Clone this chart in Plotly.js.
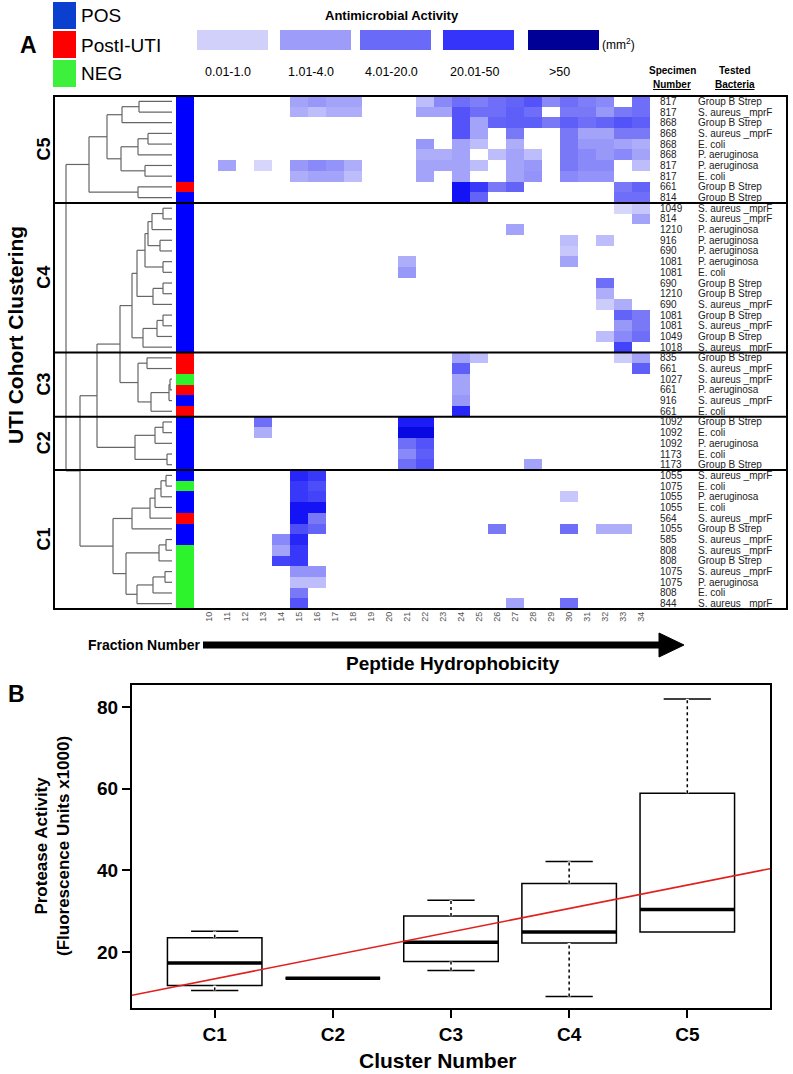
<!DOCTYPE html>
<html>
<head>
<meta charset="utf-8">
<script src="https://cdn.plot.ly/plotly-3.0.1.min.js"></script>
<style>html,body{margin:0;padding:0;background:#fff}#chart{width:793px;height:1074px}</style>
</head>
<body>
<div id="chart"></div>
<script>
// ---- panel A data ----
const fractions = [10, 11, 12, 13, 14, 15, 16, 17, 18, 19, 20, 21, 22, 23, 24, 25, 26, 27, 28, 29, 30, 31, 32, 33, 34];

const clusterNames = ['C5', 'C4', 'C3', 'C2', 'C1'];
const clusterSizes = [10, 14, 6, 5, 13];

const specimens = [
  817, 817, 868, 868, 868, 868, 817, 817, 661, 814,
  1049, 814, 1210, 916, 690, 1081, 1081, 690, 1210, 690, 1081, 1081, 1049, 1018,
  835, 661, 1027, 661, 916, 661,
  1092, 1092, 1092, 1173, 1173,
  1055, 1075, 1055, 1055, 564, 1055, 585, 808, 808, 1075, 1075, 808, 844
];

const bacteria = [
  'Group B Strep', 'S. aureus _mprF', 'Group B Strep', 'S. aureus _mprF', 'E. coli', 'P. aeruginosa', 'P. aeruginosa', 'E. coli', 'Group B Strep', 'Group B Strep',
  'S. aureus _mprF', 'S. aureus _mprF', 'P. aeruginosa', 'P. aeruginosa', 'P. aeruginosa', 'P. aeruginosa', 'E. coli', 'Group B Strep', 'Group B Strep', 'S. aureus _mprF', 'Group B Strep', 'S. aureus _mprF', 'Group B Strep', 'S. aureus _mprF',
  'Group B Strep', 'S. aureus _mprF', 'S. aureus _mprF', 'P. aeruginosa', 'S. aureus _mprF', 'E. coli',
  'Group B Strep', 'E. coli', 'P. aeruginosa', 'E. coli', 'Group B Strep',
  'S. aureus _mprF', 'E. coli', 'P. aeruginosa', 'E. coli', 'S. aureus _mprF', 'Group B Strep', 'S. aureus _mprF', 'S. aureus _mprF', 'Group B Strep', 'S. aureus _mprF', 'P. aeruginosa', 'E. coli', 'S. aureus _mprF'
];

// 0 = POS, 1 = PostI-UTI, 2 = NEG
const status = [
  0, 0, 0, 0, 0, 0, 0, 0, 1, 0,
  0, 0, 0, 0, 0, 0, 0, 0, 0, 0, 0, 0, 0, 0,
  1, 1, 2, 1, 0, 1,
  0, 0, 0, 0, 0,
  0, 2, 0, 0, 1, 0, 0, 2, 2, 2, 2, 2, 2
];
const statusNames = ['POS', 'PostI-UTI', 'NEG'];

// activity level per fraction (1 = 0.01-1.0 ... 5 = >50), missing = none
const c5Activity = [
  {15: 2, 16: 2.2, 17: 2, 18: 2, 22: 1.5, 23: 2.5, 24: 3, 25: 2.7, 26: 3, 27: 3.2, 28: 3.5, 29: 2.5, 30: 3, 31: 2.7, 32: 2.5, 34: 3},
  {15: 1.8, 16: 1.5, 17: 1.8, 18: 1.8, 22: 2, 23: 2, 24: 3.5, 25: 3, 26: 3, 27: 3.3, 28: 3, 30: 2.8, 31: 2.8, 32: 2.2, 33: 2.8, 34: 3},
  {24: 3.5, 25: 2, 26: 3.2, 27: 3.3, 28: 3.3, 29: 2.8, 30: 3.3, 31: 3, 32: 3.2, 33: 3.5, 34: 3.3},
  {24: 3.5, 25: 2, 27: 2.8, 30: 2.8, 31: 2, 32: 2, 33: 2.8, 34: 2.8},
  {22: 2.2, 24: 2, 25: 1.5, 27: 1.8, 30: 2.8, 31: 2.2, 32: 2.2, 33: 2, 34: 1.8},
  {22: 1.8, 23: 1.8, 24: 2, 26: 1.5, 27: 2, 28: 1.5, 30: 2.8, 31: 2.5, 32: 2.2, 33: 2.5, 34: 2},
  {11: 2, 13: 1, 15: 2.2, 16: 2.5, 17: 2.3, 18: 1.8, 22: 2, 23: 2, 24: 2, 25: 1.5, 27: 2, 28: 2.2, 30: 2.8, 31: 2.5, 32: 2.5, 34: 1.5},
  {15: 1.8, 16: 2, 17: 2, 18: 1.5, 22: 2, 24: 2, 27: 2, 28: 2.3, 30: 2.5, 31: 2.3, 32: 2.3},
  {24: 4.4, 25: 4, 26: 2.8, 27: 3.2, 33: 2.8, 34: 3.2},
  {24: 4.4, 25: 3.2, 33: 3, 34: 3}
];
const c4Activity = [
  {33: 1, 34: 1.3},
  {34: 2},
  {27: 2},
  {30: 1.5, 32: 1.5},
  {30: 1.3},
  {21: 1.8, 30: 2},
  {21: 2.2},
  {32: 3},
  {32: 1.8},
  {32: 1.2, 33: 1.8},
  {33: 3.2, 34: 2.8},
  {33: 2.2, 34: 2.8},
  {32: 1.5, 33: 2.5, 34: 3},
  {33: 3.8}
];
const c3Activity = [
  {24: 2, 25: 1.5, 33: 1.2, 34: 2},
  {24: 3.3, 34: 3.3},
  {24: 2},
  {24: 2},
  {24: 2.2},
  {24: 4.2}
];
const c2Activity = [
  {13: 3, 21: 4.3, 22: 4.3},
  {13: 1.8, 21: 4.6, 22: 4.6},
  {21: 3, 22: 3.5},
  {21: 2.5, 22: 3.3},
  {21: 3, 22: 3.5, 28: 2}
];
const c1Activity = [
  {15: 4.2, 16: 4},
  {15: 4, 16: 3.6},
  {15: 4, 16: 3.8, 30: 1.3},
  {15: 4.4, 16: 4.4},
  {15: 4.4, 16: 2.8},
  {15: 3.6, 16: 3.2, 26: 2.8, 30: 3, 32: 1.8, 33: 1.8},
  {14: 2.5, 15: 4.2},
  {14: 2, 15: 4},
  {14: 3.8, 15: 4},
  {15: 2.3, 16: 2.3},
  {15: 1.5, 16: 1.5},
  {15: 2.8},
  {15: 3.5, 27: 2, 30: 3}
];

// dendrogram: [left, right, merge height], leaves are row numbers
const c5Tree = [[[[0, 1, 33], 2, 50], [[[3, 4, 24], 5, 34], [6, 7, 27], 51], 65], [8, 9, 34], 83];
const c4Tree = [[[[[[10, 11, 9], 12, 20], [13, 14, 12], 24], [15, 16, 9], 27], [[17, 18, 9], 19, 19], 35], [[[20, 21, 9], 22, 15], 23, 29], 40];
const c3Tree = [[24, 25, 25], [[[26, 27, 2], 28, 3], 29, 21], 34];
const c2Tree = [[[30, 31, 9], 32, 17], [33, 34, 5], 37];
const c1Tree = [[[[[[35, 36, 6], 37, 11], 38, 17], 39, 22], 40, 40], [[[41, 42, 6], 43, 13], [[[44, 45, 7], 46, 19], 47, 35], 46], 59];
const fullTree = [c5Tree, [[[c4Tree, c3Tree, 52], c2Tree, 75], c1Tree, 92], 106];

const activityBins = ['0.01-1.0', '1.01-4.0', '4.01-20.0', '20.01-50', '>50'];
const activityColors = ['#d0d0fb', '#9d9df9', '#6a6af8', '#3434fb', '#000096'];

// ---- panel B data ----
const boxClusters = ['C1', 'C2', 'C3', 'C4', 'C5'];
const boxLower = [10.6, 13.6, 15.5, 9.1, 24.9];
const boxQ1 = [11.8, 13.6, 17.7, 22.2, 24.9];
const boxMedian = [17.3, 13.6, 22.4, 24.9, 30.4];
const boxQ3 = [23.5, 13.6, 28.8, 36.8, 58.9];
const boxUpper = [25.1, 13.6, 32.7, 42.2, 82];
const trendIntercept = 7.7;
const trendSlope = 5.74;

// ---- helpers ----
const W = 793, H = 1074;
const px = x => x / W;
const py = y => 1 - y / H;
const arial = 'Liberation Sans, Arial, sans-serif';

// annotation with explicit anchors (auto anchors shift text near the edges)
const note = (o) => Object.assign({ xref: 'paper', yref: 'paper', xanchor: 'center', yanchor: 'middle', showarrow: false }, o);

const activityRows = [...c5Activity, ...c4Activity, ...c3Activity, ...c2Activity, ...c1Activity];
const rowIdx = specimens.map((d, i) => i);
const z = activityRows.map(r => fractions.map(f => (r[f] !== undefined ? r[f] : null)));

// dendrogram segments
const dx = [], dy = [];
const walk = node => {
  if (typeof node === 'number') return { y: node, h: 0 };
  const [a, b, h] = node;
  const A = walk(a), B = walk(b);
  dx.push(A.h, h, null, B.h, h, null, h, h, null);
  dy.push(A.y, A.y, null, B.y, B.y, null, A.y, B.y, null);
  return { y: (A.y + B.y) / 2, h };
};
walk(fullTree);

// cluster row boundaries
const bounds = [];
let acc = 0;
clusterSizes.forEach(n => { bounds.push([acc, acc + n - 1]); acc += n; });

const traces = [];

traces.push({
  type: 'heatmap', x: fractions, y: rowIdx, z: z,
  xaxis: 'x', yaxis: 'y', zmin: 1, zmax: 5, showscale: false, hoverinfo: 'skip',
  colorscale: [[0, '#d6d6fc'], [0.25, '#a3a3f9'], [0.5, '#6e6ef8'], [0.75, '#3838fa'], [0.875, '#0a0af5'], [1, '#000096']]
});

traces.push({
  type: 'heatmap', x: [0], y: rowIdx, z: status.map(s => [s]),
  xaxis: 'x2', yaxis: 'y', zmin: 0, zmax: 2, showscale: false, hoverinfo: 'skip',
  colorscale: [[0, '#0000ff'], [0.33, '#0000ff'], [0.34, '#ff0000'], [0.66, '#ff0000'], [0.67, '#2cf32c'], [1, '#2cf32c']]
});

traces.push({
  type: 'scatter', mode: 'lines', x: dx, y: dy, xaxis: 'x3', yaxis: 'y',
  line: { color: '#666', width: 1.2 }, hoverinfo: 'skip'
});

// box plot
traces.push({
  type: 'box', x: [1, 2, 3, 4, 5], q1: boxQ1, median: boxMedian, q3: boxQ3,
  lowerfence: boxLower, upperfence: boxUpper, width: 0.8, whiskerwidth: 0.5,
  xaxis: 'x4', yaxis: 'y4', fillcolor: '#fff', line: { color: '#000', width: 1.5 },
  hoverinfo: 'skip', boxpoints: false
});

const wx = [], wyHi = [], wyLo = [];
boxClusters.forEach((c, i) => {
  wx.push(i + 1, i + 1, null);
  wyHi.push(boxQ3[i], boxUpper[i], null);
  wyLo.push(boxLower[i], boxQ1[i], null);
});
[wyHi, wyLo].forEach(wy => {
  traces.push({ type: 'scatter', mode: 'lines', x: wx, y: wy, xaxis: 'x4', yaxis: 'y4',
    line: { color: '#fff', width: 3 }, hoverinfo: 'skip' });
  traces.push({ type: 'scatter', mode: 'lines', x: wx, y: wy, xaxis: 'x4', yaxis: 'y4',
    line: { color: '#000', width: 1.5, dash: 'dot' }, hoverinfo: 'skip' });
});

const mx = [], my = [];
boxMedian.forEach((m, i) => { mx.push(i + 0.6, i + 1.4, null); my.push(m, m, null); });
traces.push({ type: 'scatter', mode: 'lines', x: mx, y: my, xaxis: 'x4', yaxis: 'y4',
  line: { color: '#000', width: 3.5 }, hoverinfo: 'skip' });

const tx = [0.3, 5.7];
traces.push({ type: 'scatter', mode: 'lines', x: tx, y: tx.map(v => trendIntercept + trendSlope * v),
  xaxis: 'x4', yaxis: 'y4', line: { color: '#e0201e', width: 1.6 }, hoverinfo: 'skip' });

// ---- shapes and annotations ----
const shapes = [];
const annotations = [];

// frame of panel A and cluster separators
shapes.push({ type: 'rect', xref: 'paper', yref: 'paper', x0: px(54), x1: px(787), y0: py(609), y1: py(96),
  line: { color: '#000', width: 2 } });
bounds.slice(0, -1).forEach(b => {
  shapes.push({ type: 'line', xref: 'paper', yref: 'y', x0: px(54), x1: px(787), y0: b[1] + 0.5, y1: b[1] + 0.5,
    line: { color: '#000', width: 2 } });
});

// cluster labels
bounds.forEach((b, i) => {
  annotations.push(note({ yref: 'y', x: px(44), y: (b[0] + b[1]) / 2, text: '<b>' + clusterNames[i] + '</b>',
    textangle: -90, font: { family: arial, size: 18, color: '#000' } }));
});
annotations.push(note({ x: px(15), y: py(335), text: '<b>UTI Cohort Clustering</b>',
  textangle: -90, font: { family: arial, size: 21, color: '#000' } }));

// row labels
specimens.forEach((s, i) => {
  annotations.push(note({ yref: 'y', x: px(658), y: i, xanchor: 'left', text: String(s),
    font: { family: arial, size: 10, color: '#222' } }));
  annotations.push(note({ yref: 'y', x: px(696), y: i, xanchor: 'left', text: bacteria[i],
    font: { family: arial, size: 10, color: '#222' } }));
});

// header labels
annotations.push(note({ x: px(672), y: py(71), text: '<b>Specimen</b>', font: { family: arial, size: 10, color: '#000' } }));
annotations.push(note({ x: px(672), y: py(84), text: '<b><u>Number</u></b>', font: { family: arial, size: 10, color: '#000' } }));
annotations.push(note({ x: px(735), y: py(71), text: '<b>Tested</b>', font: { family: arial, size: 10, color: '#000' } }));
annotations.push(note({ x: px(735), y: py(84), text: '<b><u>Bacteria</u></b>', font: { family: arial, size: 10, color: '#000' } }));

// "A" and status legend
annotations.push(note({ x: px(28), y: py(45), text: '<b>A</b>', font: { family: arial, size: 23, color: '#000' } }));
const statusLegendColors = ['#0b3fcf', '#ff0000', '#3cf03c'];
statusNames.forEach((n, i) => {
  const top = 2 + i * 29;
  shapes.push({ type: 'rect', xref: 'paper', yref: 'paper', x0: px(53), x1: px(76), y0: py(top + 27), y1: py(top),
    fillcolor: statusLegendColors[i], line: { width: 0 } });
  annotations.push(note({ x: px(79), y: py(top + 14), xanchor: 'left', text: n,
    font: { family: arial, size: 19, color: '#000' } }));
});

// activity legend
annotations.push(note({ x: px(392), y: py(16), text: '<b>Antimicrobial Activity</b>',
  font: { family: arial, size: 13, color: '#000' } }));
const binLeft = [197, 280, 360, 443, 528];
activityBins.forEach((b, i) => {
  shapes.push({ type: 'rect', xref: 'paper', yref: 'paper', x0: px(binLeft[i]), x1: px(binLeft[i] + 71),
    y0: py(50), y1: py(30), fillcolor: activityColors[i], line: { width: 0 } });
  annotations.push(note({ x: px(binLeft[i] + 31), y: py(72), text: b,
    font: { family: arial, size: 12.5, color: '#000' } }));
});
annotations.push(note({ x: px(600), y: py(44), xanchor: 'left', text: '(mm<sup>2</sup>)',
  font: { family: arial, size: 12, color: '#000' } }));

// fraction arrow
shapes.push({ type: 'line', xref: 'paper', yref: 'paper', x0: px(203), x1: px(662), y0: py(645), y1: py(645),
  line: { color: '#000', width: 7 } });
shapes.push({ type: 'path', xref: 'paper', yref: 'paper',
  path: `M ${px(659)},${py(633)} L ${px(684)},${py(645)} L ${px(659)},${py(657)} Z`,
  fillcolor: '#000', line: { color: '#000', width: 1 } });
annotations.push(note({ x: px(203), y: py(645), xanchor: 'right', text: '<b>Fraction Number</b>',
  font: { family: arial, size: 14, color: '#000' } }));
annotations.push(note({ x: px(453), y: py(663), text: '<b>Peptide Hydrophobicity</b>',
  font: { family: arial, size: 19, color: '#000' } }));

// panel B labels
annotations.push(note({ x: px(16), y: py(694), text: '<b>B</b>', font: { family: arial, size: 23, color: '#000' } }));
annotations.push(note({ x: px(52), y: py(846), textangle: -90,
  text: '<b>Protease Activity<br>(Fluorescence Units x1000)</b>',
  font: { family: arial, size: 17, color: '#000' } }));
annotations.push(note({ x: px(438), y: py(1060), text: '<b>Cluster Number</b>',
  font: { family: arial, size: 21, color: '#000' } }));

const hidden = { visible: false, showgrid: false, zeroline: false, fixedrange: true };

const layout = {
  width: W, height: H,
  margin: { l: 0, r: 0, t: 0, b: 0 },
  paper_bgcolor: '#fff', plot_bgcolor: 'rgba(0,0,0,0)',
  showlegend: false, hovermode: false,
  font: { family: arial, color: '#000' },
  xaxis: {
    domain: [px(200), px(650)], range: [9.5, 34.5], anchor: 'y',
    tickvals: fractions, ticktext: fractions.map(String), tickangle: -90,
    tickfont: { family: arial, size: 9, color: '#555' }, ticks: '',
    showgrid: false, zeroline: false, showline: false
  },
  yaxis: Object.assign({}, hidden, { domain: [py(609), py(96)], range: [47.5, -0.5] }),
  xaxis2: Object.assign({}, hidden, { domain: [px(176), px(194)], range: [-0.5, 0.5], anchor: 'y' }),
  xaxis3: Object.assign({}, hidden, { domain: [px(54), px(172)], range: [118, 0], anchor: 'y' }),
  xaxis4: {
    domain: [px(132), px(770)], range: [0.3, 5.7], anchor: 'y4',
    tickvals: [1, 2, 3, 4, 5], ticktext: boxClusters,
    ticks: 'outside', ticklen: 8, tickwidth: 2, tickcolor: '#000',
    tickfont: { family: arial, size: 19, color: '#000', weight: 'bold' },
    showline: true, mirror: true, linewidth: 2, linecolor: '#000',
    showgrid: false, zeroline: false
  },
  yaxis4: {
    domain: [py(1008), py(685)], range: [6.3, 85.4], anchor: 'x4',
    tickvals: [20, 40, 60, 80],
    ticks: 'outside', ticklen: 8, tickwidth: 2, tickcolor: '#000',
    tickfont: { family: arial, size: 19, color: '#000', weight: 'bold' },
    showline: true, mirror: true, linewidth: 2, linecolor: '#000',
    showgrid: false, zeroline: false
  },
  shapes: shapes,
  annotations: annotations
};

Plotly.newPlot('chart', traces, layout, { staticPlot: true });
</script>
</body>
</html>
